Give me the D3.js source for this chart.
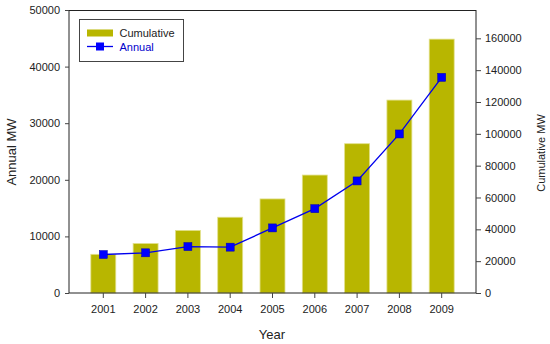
<!DOCTYPE html>
<html><head><meta charset="utf-8">
<script src="https://cdn.jsdelivr.net/npm/d3@7"></script>
<style>body{margin:0;background:#fff}svg{display:block}text{font-family:"Liberation Sans",Arial,sans-serif}</style>
</head><body><svg id="c" width="550" height="344"></svg>
<script>
const years = ["2001","2002","2003","2004","2005","2006","2007","2008","2009"];
const cumulative = [24300, 31100, 39300, 47600, 59100, 74100, 93800, 121200, 159500];
const annual = [6800, 7100, 8200, 8100, 11500, 14900, 19800, 28100, 38100];
const leftTicks = [0,10000,20000,30000,40000,50000];
const rightTicks = [0,20000,40000,60000,80000,100000,120000,140000,160000];

const svg = d3.select("#c");
const L=69, R=476, T=10, B=293;
const x = d3.scaleBand().domain(years).range([L,R]).paddingInner(0.41).paddingOuter(0.516);
const yL = d3.scaleLinear().domain([0,50000]).range([B,T]);
const yR = d3.scaleLinear().domain([0,177800]).range([B,T]);

// bars
svg.append("g").selectAll("rect").data(years).join("rect")
  .attr("x", d=>x(d)).attr("width", x.bandwidth())
  .attr("y", (d,i)=>yR(cumulative[i])).attr("height",(d,i)=>B-yR(cumulative[i]))
  .attr("fill","#b8b600").attr("stroke","#e2e08a").attr("stroke-width",0.8);

// frame top
svg.append("line").attr("x1",L).attr("x2",R).attr("y1",T+0.5).attr("y2",T+0.5).attr("stroke","#222");

// axes
const axL = svg.append("g").attr("transform",`translate(${L},0)`)
  .call(d3.axisLeft(yL).tickValues(leftTicks).tickFormat(d3.format("d")).tickSize(4).tickPadding(5));
const axR = svg.append("g").attr("transform",`translate(${R},0)`)
  .call(d3.axisRight(yR).tickValues(rightTicks).tickFormat(d3.format("d")).tickSize(5).tickPadding(4));
const axB = svg.append("g").attr("transform",`translate(0,${B})`)
  .call(d3.axisBottom(x).tickSize(5).tickPadding(7).tickSizeOuter(0));
[axL,axR,axB].forEach(g=>{
  g.selectAll("text").attr("font-size",11).attr("fill","#222");
  g.selectAll("line").attr("stroke","#444");
  g.select(".domain").attr("stroke","#222");
});
axL.select(".domain").attr("d",`M0,${T}V${B}`);
axR.select(".domain").attr("d",`M0,${T}V${B}`);
axB.select(".domain").attr("d",`M${L},0H${R}`);

// line
const line = d3.line().x((d,i)=>x(years[i])+x.bandwidth()/2).y(d=>yL(d));
svg.append("path").datum(annual).attr("d",line).attr("fill","none").attr("stroke","#0000ee").attr("stroke-width",1.3);
svg.append("g").selectAll("rect").data(annual).join("rect")
  .attr("x",(d,i)=>x(years[i])+x.bandwidth()/2-4).attr("y",d=>yL(d)-4)
  .attr("width",8).attr("height",8).attr("fill","#0000ff").attr("stroke","#0000aa").attr("stroke-width",0.5);

// axis titles
svg.append("text").attr("transform","translate(16,152) rotate(-90)").attr("text-anchor","middle")
  .attr("font-size",13).attr("fill","#222").text("Annual MW");
svg.append("text").attr("transform","translate(545,153) rotate(-90)").attr("text-anchor","middle")
  .attr("font-size",11).attr("fill","#222").text("Cumulative MW");
svg.append("text").attr("x",272).attr("y",339).attr("text-anchor","middle")
  .attr("font-size",13).attr("fill","#222").text("Year");

// legend
const lg = svg.append("g");
lg.append("rect").attr("x",79.5).attr("y",19.5).attr("width",104).attr("height",42).attr("fill","#fff").attr("stroke","#444");
lg.append("rect").attr("x",87).attr("y",29.5).attr("width",26).attr("height",7).attr("fill","#b8b600");
lg.append("text").attr("x",119.5).attr("y",37).attr("font-size",11).attr("fill","#222").text("Cumulative");
lg.append("line").attr("x1",87).attr("x2",113).attr("y1",46.5).attr("y2",46.5).attr("stroke","#0000ee").attr("stroke-width",1.3);
lg.append("rect").attr("x",96).attr("y",42.5).attr("width",8).attr("height",8).attr("fill","#0000ff");
lg.append("text").attr("x",119.5).attr("y",50.5).attr("font-size",11).attr("fill","#0000cc").text("Annual");
</script></body></html>
